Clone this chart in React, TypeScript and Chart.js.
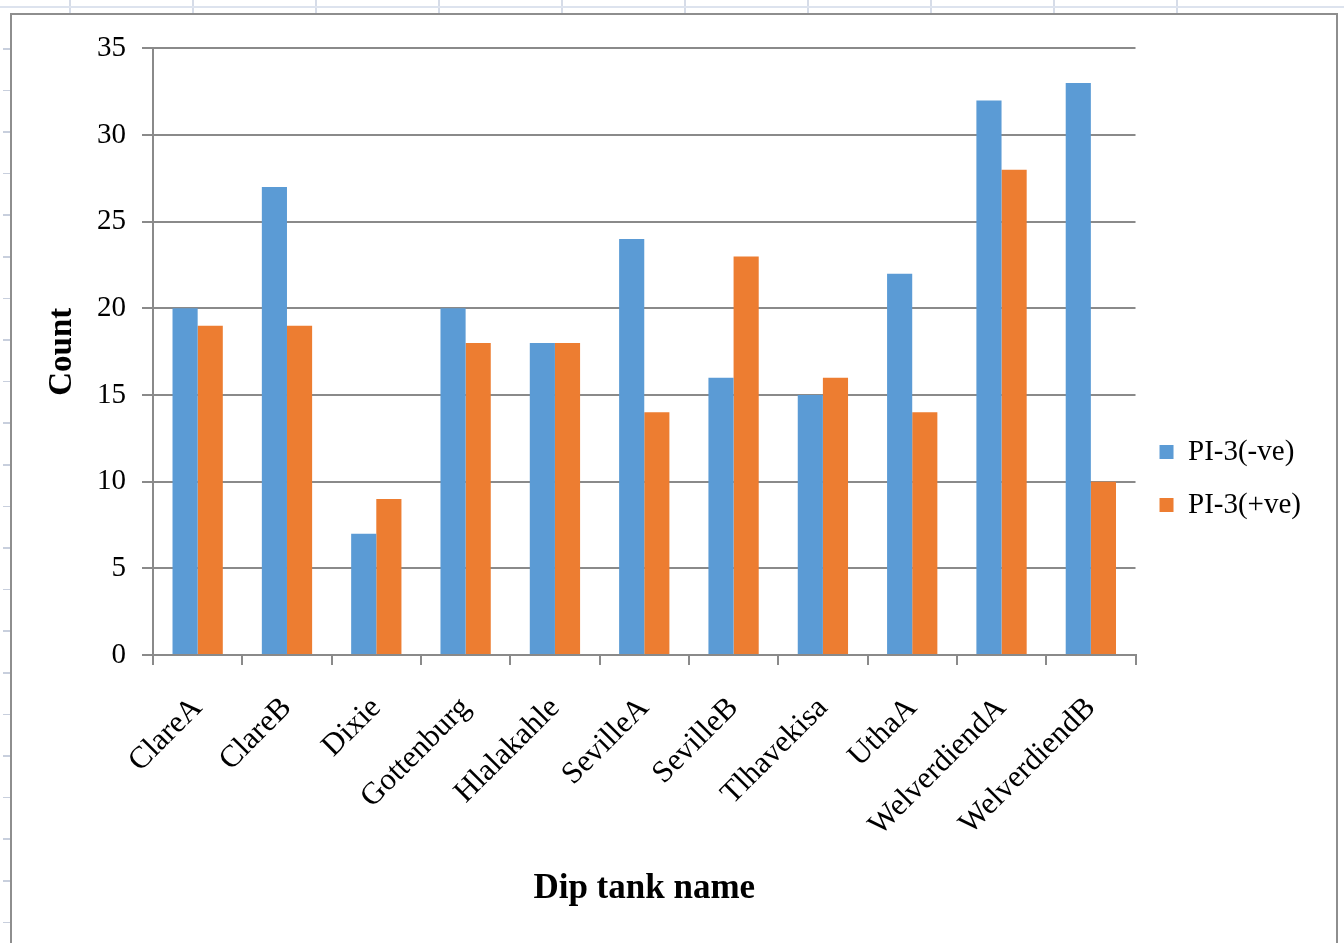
import React, { useEffect, useRef } from "react";
import { Chart, registerables } from "chart.js";

Chart.register(...registerables);

const categories = [
  "ClareA",
  "ClareB",
  "Dixie",
  "Gottenburg",
  "Hlalakahle",
  "SevilleA",
  "SevilleB",
  "Tlhavekisa",
  "UthaA",
  "WelverdiendA",
  "WelverdiendB",
];
const negativeCounts = [20, 27, 7, 20, 18, 24, 16, 15, 22, 32, 33];
const positiveCounts = [19, 19, 9, 18, 18, 14, 23, 16, 14, 28, 10];
const seriesLabels = ["PI-3(-ve)", "PI-3(+ve)"];
const yMin = 0;
const yMax = 35;
const yStep = 5;
const xTitle = "Dip tank name";
const yTitle = "Count";

const FONT = "'Liberation Serif', 'Times New Roman', serif";
const GRID = "#8a8a8a";

export default function App() {
  const ref = useRef<HTMLCanvasElement | null>(null);

  useEffect(() => {
    if (!ref.current) return;
    const chart = new Chart(ref.current, {
      type: "bar",
      data: {
        labels: categories,
        datasets: [
          {
            label: seriesLabels[0],
            data: negativeCounts,
            backgroundColor: "#5B9BD5",
            borderWidth: 0,
            categoryPercentage: 0.563,
            barPercentage: 1.0,
          },
          {
            label: seriesLabels[1],
            data: positiveCounts,
            backgroundColor: "#ED7D31",
            borderWidth: 0,
            categoryPercentage: 0.563,
            barPercentage: 1.0,
          },
        ],
      },
      options: {
        responsive: false,
        animation: false,
        devicePixelRatio: 1,
        layout: { padding: { top: 31, left: 0, right: 25, bottom: 0 } },
        plugins: {
          tooltip: { enabled: false },
          legend: {
            position: "right",
            labels: {
              boxWidth: 14,
              boxHeight: 14,
              padding: 24,
              color: "#000",
              font: { family: FONT, size: 29 },
            },
          },
        },
        scales: {
          x: {
            grid: {
              drawOnChartArea: false,
              drawTicks: true,
              tickLength: 10,
              color: GRID,
              lineWidth: 2,
            },
            border: { color: GRID, width: 2 },
            ticks: {
              color: "#000",
              font: { family: FONT, size: 31 },
              minRotation: 45,
              maxRotation: 45,
              autoSkip: false,
              padding: 25,
            },
            title: {
              display: true,
              text: xTitle,
              color: "#000",
              font: { family: FONT, size: 35, weight: "bold" },
              padding: { top: 0, bottom: 1 },
            },
            afterFit: (scale: any) => {
              scale.height = 256;
            },
          },
          y: {
            min: yMin,
            max: yMax,
            grid: {
              color: GRID,
              lineWidth: 2,
              tickLength: 11,
            },
            border: { color: GRID, width: 2 },
            ticks: {
              stepSize: yStep,
              color: "#000",
              font: { family: FONT, size: 29 },
              padding: 16,
            },
            title: {
              display: true,
              text: yTitle,
              color: "#000",
              font: { family: FONT, size: 33, weight: "bold" },
              padding: { top: 31, bottom: 0 },
            },
            afterFit: (scale: any) => {
              scale.width = 141;
            },
          },
        },
      },
    });
    return () => chart.destroy();
  }, []);

  return (
    <div
      style={{
        position: "fixed",
        left: 0,
        top: 0,
        width: 1344,
        height: 943,
        background: "#fff",
        overflow: "hidden",
      }}
    >
      <div
        style={{
          position: "absolute",
          left: 0,
          top: 0,
          width: 1344,
          height: 14,
          backgroundImage:
            "linear-gradient(to bottom, transparent 6px, #dde3ee 6px, #dde3ee 8px, transparent 8px), repeating-linear-gradient(to right, transparent 0px, transparent 121px, #d6dce8 121px, #d6dce8 123px)",
          backgroundPosition: "0 0, -52px 0",
        }}
      />
      <div
        style={{
          position: "absolute",
          left: 3,
          top: 0,
          width: 7,
          height: 943,
          backgroundImage:
            "repeating-linear-gradient(to bottom, transparent 0px, transparent 40px, #c8cfdd 40px, #c8cfdd 41.6px)",
          backgroundPosition: "0 8px",
        }}
      />
      <div
        style={{
          position: "absolute",
          left: 10,
          top: 13,
          width: 1324,
          height: 940,
          border: "2px solid #8e8e8e",
          background: "#fff",
        }}
      />
      <canvas
        ref={ref}
        width={1324}
        height={896}
        style={{ position: "absolute", left: 12, top: 15, width: 1324, height: 896 }}
      />
    </div>
  );
}
